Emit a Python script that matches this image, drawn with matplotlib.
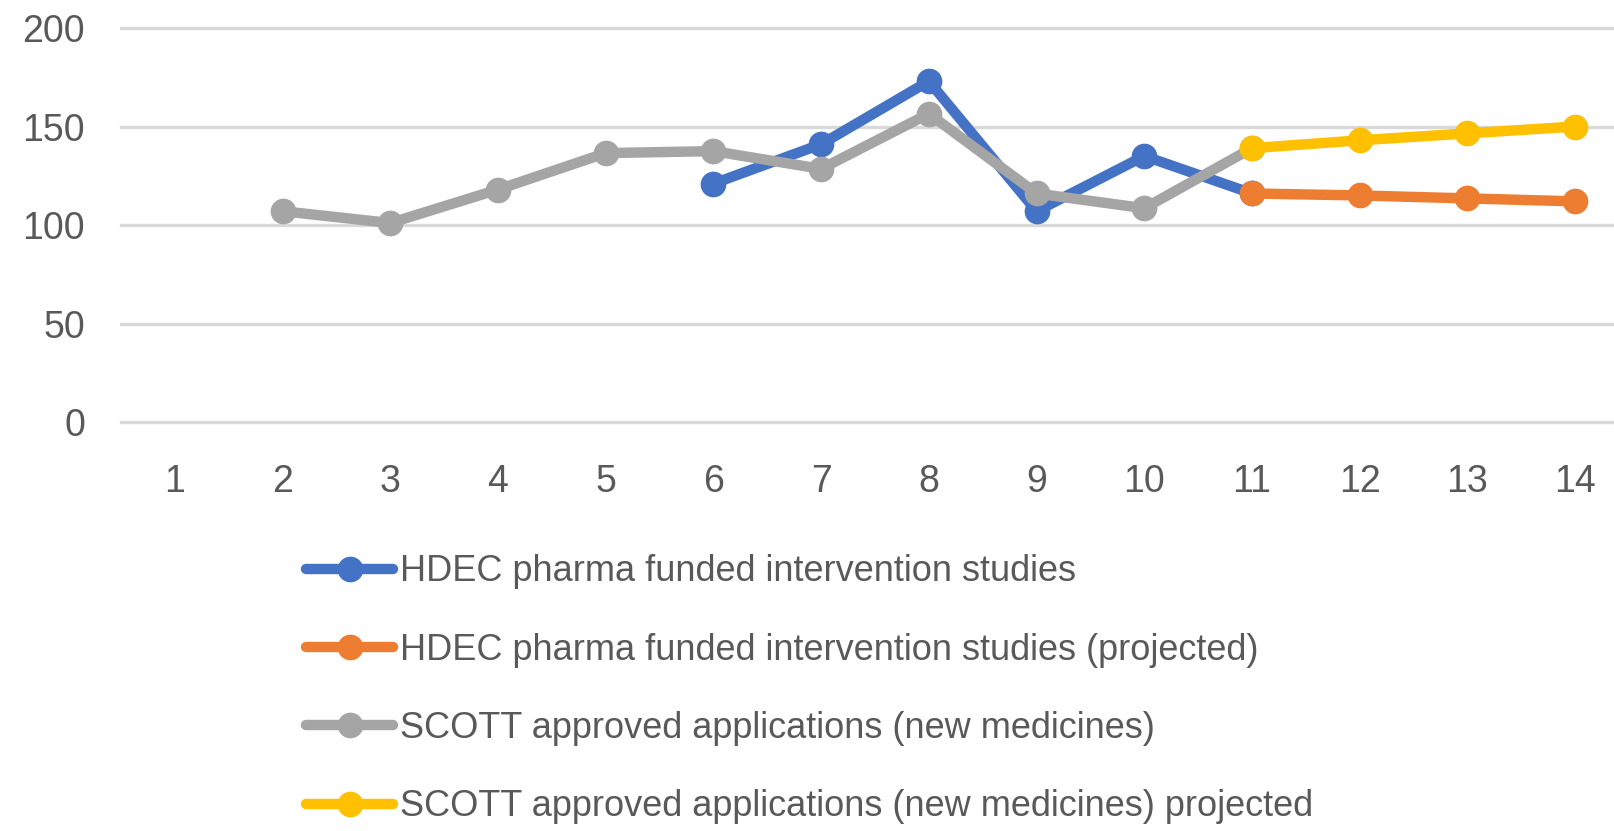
import numpy as np
import matplotlib
matplotlib.use("Agg")
import matplotlib.pyplot as plt

# categories 1..14
x_labels = [str(i) for i in range(1, 15)]

# values (None = no point)
hdec = [None, None, None, None, None, 121, 141, 173, 107, 135, 116, None, None, None]
hdec_proj = [None, None, None, None, None, None, None, None, None, None, 116, 115, 113.5, 112]
scott = [None, 107, 101, 118, 136.5, 137.5, 128.5, 156.5, 116, 108.5, 139, None, None, None]
scott_proj = [None, None, None, None, None, None, None, None, None, None, 139, 143, 146.5, 150]

labels = [
    "HDEC pharma funded intervention studies",
    "HDEC pharma funded intervention studies (projected)",
    "SCOTT approved applications (new medicines)",
    "SCOTT approved applications (new medicines) projected",
]
colors = ["#4472C4", "#ED7D31", "#A5A5A5", "#FFC000"]

TEXT = "#595959"
GRID = "#D9D9D9"

plt.rcParams["font.family"] = ["Liberation Sans", "DejaVu Sans"]

W, H = 1614, 831
fig = plt.figure(figsize=(W / 100, H / 100), dpi=100)
fig.patch.set_facecolor("white")

# plot area: left 121px, right beyond the image edge (chart is cropped)
left, right = 121, 1629
top, bottom = 28, 422
ax = fig.add_axes([left / W, 1 - bottom / H, (right - left) / W, (bottom - top) / H])

pos = np.arange(1, 15)


def to_arr(vals):
    return np.array([np.nan if v is None else v for v in vals], dtype=float)


handles = []
for i, (vals, col, lab) in enumerate(zip([hdec, hdec_proj, scott, scott_proj], colors, labels)):
    y = to_arr(vals)
    h, = ax.plot(pos, y, color=col, linewidth=7.5, marker="o", markersize=17.5,
                 markerfacecolor=col, markeredgecolor=col, label=lab,
                 solid_capstyle="round", zorder=3 + i)
    handles.append(h)

ax.set_xlim(0.5, 14.5)
ax.set_ylim(0, 200)
ax.set_yticks([0, 50, 100, 150, 200])
ax.set_xticks(pos)
ax.set_xticklabels(x_labels)

ax.grid(axis="y", color=GRID, linewidth=2.4, zorder=0)
ax.grid(axis="x", visible=False)
for gl in ax.get_ygridlines():
    gl.set_clip_on(False)
for s in ax.spines.values():
    s.set_visible(False)
ax.tick_params(axis="both", length=0, colors=TEXT, labelsize=27)
ax.tick_params(axis="y", pad=26)
ax.tick_params(axis="x", pad=30)

leg = fig.legend(handles=handles, labels=labels, loc="upper left",
                 bbox_to_anchor=(292 / W, 1 - 540 / H), frameon=False,
                 fontsize=26, labelcolor=TEXT, handlelength=2.4,
                 handletextpad=0.2, labelspacing=1.2, borderaxespad=0)

fig.savefig("out.png", dpi=100, facecolor="white")
